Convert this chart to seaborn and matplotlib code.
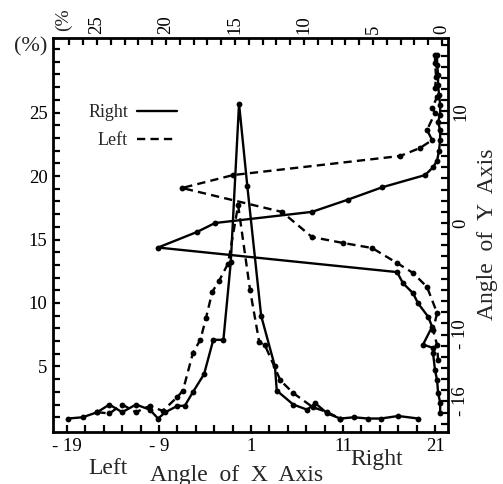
import numpy as np
import pandas as pd
import matplotlib
matplotlib.use("Agg")
import matplotlib.pyplot as plt
from matplotlib.lines import Line2D
import seaborn as sns

# ---- data: distribution along X axis angle (bottom axis, left % axis) ----
right_x_angle = [-18.9, -17.3, -15.7, -14.4, -13.0, -11.5, -10.0, -9.1, -8.3, -7.0, -6.2, -5.3,
                 -4.1, -3.1, -2.0, -1.2, -0.3, 0.6, 2.1, 3.6, 3.8, 5.6, 7.1, 8.0, 9.3, 10.7,
                 12.2, 13.7, 15.1, 17.0, 19.2]
right_x_pct = [0.9, 1.0, 1.4, 2.0, 1.4, 2.0, 1.6, 0.9, 1.4, 1.9, 1.9, 3.0,
               4.4, 7.1, 7.1, 13.2, 25.7, 19.2, 9.0, 5.0, 3.1, 2.0, 1.6, 2.1, 1.3, 0.9,
               1.0, 0.9, 0.9, 1.1, 0.9]

left_x_angle = [-15.7, -14.4, -13.0, -11.5, -10.0, -8.6, -7.0, -6.4, -5.3, -4.5, -3.9, -3.2,
                -2.5, -1.5, -0.4, 0.9, 1.9, 2.5, 4.2, 5.6, 7.7, 9.3, 10.7]
left_x_pct = [1.4, 1.3, 2.0, 1.4, 1.9, 1.5, 2.6, 3.1, 6.1, 7.1, 8.8, 10.9,
              11.7, 13.1, 17.7, 11.0, 6.9, 6.7, 3.9, 2.9, 1.8, 1.4, 0.9]

# ---- data: distribution along Y axis angle (right axis, top % axis) ----
right_y_angle = [15.1, 14.2, 13.3, 12.4, 11.5, 10.6, 9.7, 9.1, 8.3, 7.4, 6.5, 5.6, 5.0, 4.3,
                 3.2, 2.1, 1.0, 0.0, -0.8, -2.2, -4.4, -5.4, -6.3, -7.2, -8.4, -9.3, -10.9,
                 -11.2, -11.7, -13.2, -14.1, -15.2, -16.1, -17.0]
right_y_pct = [0.36, 0.36, 0.29, 0.29, 0.22, 0.14, 0.14, 0.29, 0.14, 0.14, 0.22, 0.36, 0.65, 1.23,
               4.35, 6.81, 9.42, 16.45, 17.75, 20.58, 3.26, 2.83, 2.10, 1.74, 1.01, 0.72, 1.38,
               0.65, 0.65, 0.51, 0.36, 0.29, 0.14, 0.14]

left_y_angle = [15.07, 14.35, 13.09, 12.11, 11.30, 10.31, 9.87, 8.34, 7.44, 6.73, 6.01, 4.30,
                3.14, 0.99, -1.26, -1.79, -2.24, -3.59, -4.48, -5.74, -8.07, -9.60, -10.94, -12.29]
left_y_pct = [0.51, 0.51, 0.43, 0.51, 0.36, 0.72, 0.51, 1.09, 0.72, 1.59, 3.04, 15.14,
              18.84, 11.59, 9.42, 7.17, 5.07, 3.26, 2.10, 1.09, 0.36, 0.65, 0.36, 0.29]

series_names = ["Right", "Left"]
bottom_tick_labels = [-19, -9, 1, 11, 21]
left_tick_labels = [5, 10, 15, 20, 25]
top_tick_labels = [0, 5, 10, 15, 20, 25]
right_tick_labels = [10, 0, -10, -16]

sns.set_style("ticks")
plt.rcParams["font.family"] = ["Liberation Serif", "DejaVu Serif"]

W, H = 503, 484
fig = plt.figure(figsize=(W / 100, H / 100), dpi=100)
rect = [53 / W, 1 - 432 / H, (448 - 53) / W, (432 - 38) / H]
ax = fig.add_axes(rect)
ax2 = fig.add_axes(rect, frameon=False)
ax2.patch.set_alpha(0)

lw = 1.7
ms = 4.2
dash = (0, (3.5, 2.2))

dfx_r = pd.DataFrame({"angle": right_x_angle, "pct": right_x_pct})
dfx_l = pd.DataFrame({"angle": left_x_angle, "pct": left_x_pct})
dfy_r = pd.DataFrame({"angle": right_y_angle, "pct": right_y_pct})
dfy_l = pd.DataFrame({"angle": left_y_angle, "pct": left_y_pct})

kw = dict(color="black", marker="o", markersize=ms, markeredgewidth=0,
          estimator=None, sort=False, legend=False)
sns.lineplot(data=dfx_r, x="angle", y="pct", ax=ax, linewidth=lw, linestyle="-", **kw)
sns.lineplot(data=dfx_l, x="angle", y="pct", ax=ax, linewidth=lw, linestyle=dash, **kw)
sns.lineplot(data=dfy_r, x="pct", y="angle", ax=ax2, linewidth=lw, linestyle="-", **kw)
sns.lineplot(data=dfy_l, x="pct", y="angle", ax=ax2, linewidth=lw, linestyle=dash, **kw)

# main axes (X-angle distribution)
ax.set_xlim(-20.52, 22.41)
ax.set_ylim(-0.16, 30.87)
xt = np.arange(-19, 22, 2)
ax.set_xticks(xt)
ax.set_xticklabels([("- " + str(abs(t)) if t < 0 else str(t)) if t in bottom_tick_labels else ""
                    for t in xt])
yt = np.arange(1, 31, 1)
ax.set_yticks(yt)
ax.set_yticklabels([str(t) if t in left_tick_labels else "" for t in yt])
ax.set_xlabel("")
ax.set_ylabel("")
ax.tick_params(direction="in", length=5, width=1.6, labelsize=13.5, colors="black", pad=4)
for s in ax.spines.values():
    s.set_linewidth(2.0)
    s.set_color("black")

# overlay axes (Y-angle distribution), top % axis inverted, right angle axis
ax2.set_xlim(28.19, -0.43)
ax2.set_ylim(-18.74, 16.59)
ax2.xaxis.set_ticks_position("top")
ax2.yaxis.set_ticks_position("right")
xt2 = np.arange(0, 28, 1)
ax2.set_xticks(xt2)
ax2.set_xticklabels([str(t) if t in top_tick_labels else "" for t in xt2])
yt2 = np.arange(-18, 17, 1)
ax2.set_yticks(yt2)
ax2.set_yticklabels([(("- " + str(abs(t))) if t < 0 else str(t)) if t in right_tick_labels else ""
                     for t in yt2])
ax2.set_xlabel("")
ax2.set_ylabel("")
ax2.tick_params(direction="in", length=5, width=1.6, labelsize=13.5, colors="black", pad=3)
ax2.tick_params(axis="x", labelrotation=90)
ax2.tick_params(axis="y", labelrotation=90)
for lab in ax2.get_yticklabels():
    lab.set_va("center")

# legend
handles = [Line2D([], [], color="black", linewidth=lw, linestyle="-"),
           Line2D([], [], color="black", linewidth=lw, linestyle=dash)]
leg = ax.legend(handles, series_names, loc="upper left", bbox_to_anchor=(72 / W, 1 - 88 / H),
                bbox_transform=fig.transFigure, frameon=False, markerfirst=False,
                handlelength=2.2, handletextpad=0.5, labelspacing=0.6, fontsize=13)

# extra texts
fig.text(31 / W, 1 - 47 / H, "(%)", fontsize=16, ha="center", va="center")
fig.text(63 / W, 1 - 20 / H, "(%", fontsize=14, ha="center", va="center", rotation=90)
fig.text(108 / W, 1 - 468 / H, "Left", fontsize=17, ha="center", va="center")
fig.text(237 / W, 1 - 475 / H, "Angle  of  X  Axis", fontsize=17, ha="center", va="center")
fig.text(377 / W, 1 - 459 / H, "Right", fontsize=17, ha="center", va="center")
fig.text(487 / W, 1 - 234 / H, "Angle  of  Y  Axis", fontsize=17, ha="center", va="center",
         rotation=90)

fig.savefig("out.png", dpi=100)
